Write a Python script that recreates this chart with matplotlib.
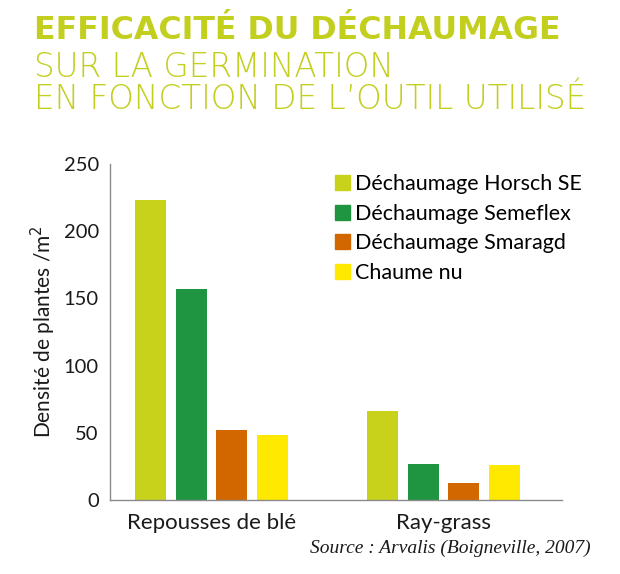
import matplotlib

matplotlib.use("Agg")

import matplotlib.pyplot as plt
import numpy as np
from matplotlib.patches import Patch

groups = ["Repousses de blé", "Ray-grass"]
series = ["Déchaumage Horsch SE", "Déchaumage Semeflex", "Déchaumage Smaragd", "Chaume nu"]
values = {
    "Déchaumage Horsch SE": [223, 66],
    "Déchaumage Semeflex": [157, 27],
    "Déchaumage Smaragd": [52, 13],
    "Chaume nu": [48, 26],
}
yticks = [0, 50, 100, 150, 200, 250]
colors = ["#c9d21b", "#1f9541", "#d26700", "#ffe900"]
title_color = "#c3cf1f"

plt.rcParams["font.family"] = ["Lato", "DejaVu Sans"]

fig = plt.figure(figsize=(6.2, 5.74), dpi=100)
ax = fig.add_axes([0.1774, 0.1289, 0.7291, 0.5854])

x = np.arange(len(groups))
pitch = 0.175
width = 0.134
for i, name in enumerate(series):
    offs = (i - 1.5) * pitch
    ax.bar(x + offs, values[name], width=width, color=colors[i], label=name)

ax.set_xlim(-0.4375, 1.511)
ax.set_ylim(0, 250)
ax.set_yticks(yticks)
ax.set_yticklabels([str(t) for t in yticks], fontsize=14.5)
ax.set_xticks(x)
ax.set_xticklabels(groups, fontsize=16)
ax.tick_params(axis="both", length=0, pad=8, colors="#1a1a1a")
ax.tick_params(axis="x", pad=9)
for s in ["top", "right"]:
    ax.spines[s].set_visible(False)
for s in ["left", "bottom"]:
    ax.spines[s].set_color("#8a8a8a")
    ax.spines[s].set_linewidth(1.0)
ax.set_ylabel("Densité de plantes /m$^2$", fontsize=15, labelpad=4, color="#1a1a1a")

handles = [Patch(color=c, label=n) for c, n in zip(colors, series)]
fig.legend(handles=handles, loc="upper left", bbox_to_anchor=(0.527, 0.712),
           frameon=False, fontsize=15.5, handlelength=0.7, handleheight=0.7,
           handletextpad=0.2, labelspacing=0.45, borderaxespad=0)

fig.text(0.055, 0.932, "EFFICACITÉ DU DÉCHAUMAGE", fontsize=22.8, fontweight="bold",
         color=title_color, family=["DejaVu Sans"], va="baseline")
fig.text(0.055, 0.866, "SUR LA GERMINATION", fontsize=23.5, fontweight=200,
         color=title_color, family=["DejaVu Sans"], va="baseline")
fig.text(0.055, 0.810, "EN FONCTION DE L’OUTIL UTILISÉ", fontsize=23.5, fontweight=200,
         color=title_color, family=["DejaVu Sans"], va="baseline")

fig.text(0.952, 0.045, "Source : Arvalis (Boigneville, 2007)", fontsize=14, style="italic",
         family=["Liberation Serif", "DejaVu Serif"], ha="right", va="center", color="#1a1a1a")

fig.savefig("out.png", dpi=100)
